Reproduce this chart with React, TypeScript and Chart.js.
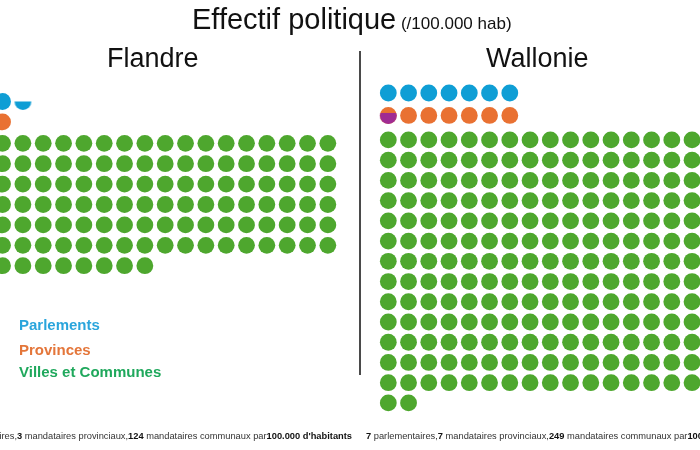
import React, { useEffect, useRef } from "react";
import { Chart, registerables } from "chart.js";

Chart.register(...registerables);

// ---------------- DATA ----------------
const regions = ["Flandre", "Wallonie"];
const parlementaires = [3.5, 7];
const provinciaux = [3, 7];
const communaux = [124, 249];
// share of the first provincial dot drawn in violet (Wallonie)
const violetShare = [0, 0.65];
const legendLabels = ["Parlements", "Provinces", "Villes et Communes"];
const titleMain = "Effectif politique";
const titleUnit = "(/100.000 hab)";

// ---------------- STYLE / LAYOUT ----------------
const W = 700;
const H = 450;
const COLS = 19;
const DOT_R = 8.4;
const COLORS = {
  parl: "#0F9ED5",
  prov: "#E97132",
  comm: "#4EA72E",
  violet: "#A02B93",
};
const LEGEND_COLORS = ["#2aa5dc", "#e4763a", "#1fa85c"];
// pixel placement of each region's dot grid (col 0 / parl row origin, steps)
const GRID = [
  { x0: -38.1, y0: 101.5, dx: 20.33, dy: 20.4, provRow: 1.0, commRow: 2.05 },
  { x0: 388.3, y0: 93.0, dx: 20.25, dy: 20.23, provRow: 1.11, commRow: 2.32 },
];
const FONT = '"Liberation Sans", Arial, sans-serif';

function partialDot(r: number, frac: number, color: string): HTMLCanvasElement {
  const size = Math.ceil(r * 2) + 2;
  const c = document.createElement("canvas");
  c.width = size;
  c.height = size;
  const ctx = c.getContext("2d")!;
  const cx = size / 2;
  const cy = size / 2;
  ctx.save();
  ctx.beginPath();
  ctx.arc(cx, cy, r, 0, Math.PI * 2);
  ctx.clip();
  ctx.fillStyle = color;
  ctx.fillRect(0, cy + r - 2 * r * frac, size, size);
  ctx.restore();
  return c;
}

function fmt(n: number) {
  return String(n).replace(".", ",");
}

function regionDatasets(i: number) {
  const g = GRID[i];
  const xAxisID = "x" + i;
  const yAxisID = "y" + i;
  const base = {
    xAxisID,
    yAxisID,
    pointRadius: DOT_R,
    pointHoverRadius: DOT_R,
    pointBorderWidth: 0,
    borderWidth: 0,
    clip: false as const,
    showLine: false,
  };
  const ds: any[] = [];
  const row = (count: number, y: number, color: string, label: string) => {
    const n = Math.floor(count);
    ds.push({
      ...base,
      label,
      order: 2,
      data: Array.from({ length: n }, (_, k) => ({ x: k, y })),
      backgroundColor: color,
      pointStyle: "circle",
    });
    const rest = count - n;
    if (rest > 0) {
      ds.push({
        ...base,
        label: label + " (part)",
        order: 2,
        data: [{ x: n, y }],
        backgroundColor: color,
        pointStyle: partialDot(DOT_R, rest, color),
      });
    }
  };
  row(parlementaires[i], 0, COLORS.parl, legendLabels[0]);
  row(provinciaux[i], g.provRow, COLORS.prov, legendLabels[1]);
  ds.push({
    ...base,
    label: legendLabels[2],
    order: 2,
    data: Array.from({ length: communaux[i] }, (_, k) => ({
      x: k % COLS,
      y: g.commRow + Math.floor(k / COLS),
    })),
    backgroundColor: COLORS.comm,
    pointStyle: "circle",
  });
  if (violetShare[i] > 0) {
    ds.push({
      ...base,
      label: "violet",
      order: 0,
      data: [{ x: 0, y: g.provRow }],
      backgroundColor: COLORS.violet,
      pointStyle: partialDot(DOT_R, violetShare[i], COLORS.violet),
    });
  }
  return ds;
}

function scalesFor(i: number) {
  const g = GRID[i];
  const xmin = -g.x0 / g.dx;
  const ymin = -g.y0 / g.dy;
  return {
    ["x" + i]: {
      type: "linear",
      axis: "x",
      display: false,
      bounds: "data",
      min: xmin,
      max: xmin + W / g.dx,
    },
    ["y" + i]: {
      type: "linear",
      axis: "y",
      display: false,
      bounds: "data",
      reverse: true,
      min: ymin,
      max: ymin + H / g.dy,
    },
  };
}

const abs = (o: React.CSSProperties): React.CSSProperties => ({
  position: "absolute",
  whiteSpace: "nowrap",
  ...o,
});

function Caption({ i, style }: { i: number; style: React.CSSProperties }) {
  return (
    <div style={abs({ fontSize: 9.3, lineHeight: "9.3px", color: "#333", ...style })}>
      <b style={{ color: "#111" }}>{fmt(parlementaires[i])}</b> parlementaires,
      <b style={{ color: "#111" }}>{fmt(provinciaux[i])}</b> mandataires provinciaux,
      <b style={{ color: "#111" }}>{fmt(communaux[i])}</b> mandataires communaux par
      <b style={{ color: "#111" }}>100.000 d'habitants</b>
    </div>
  );
}

export default function App() {
  const ref = useRef<HTMLCanvasElement>(null);

  useEffect(() => {
    const canvas = ref.current!;
    const chart = new Chart(canvas, {
      type: "scatter",
      data: { datasets: [...regionDatasets(0), ...regionDatasets(1)] },
      options: {
        animation: false,
        responsive: false,
        events: [],
        layout: { padding: 0, autoPadding: false },
        plugins: {
          legend: { display: false },
          tooltip: { enabled: false },
          title: { display: false },
        },
        scales: { ...scalesFor(0), ...scalesFor(1) } as any,
      },
    });
    return () => chart.destroy();
  }, []);

  return (
    <div
      style={{
        position: "fixed",
        left: 0,
        top: 0,
        width: W,
        height: H,
        overflow: "hidden",
        background: "#fff",
        fontFamily: FONT,
      }}
    >
      <canvas ref={ref} width={W} height={H} style={{ position: "absolute", left: 0, top: 0, width: W, height: H }} />

      <div style={abs({ left: 192, top: 30 - 0.8465 * 29, fontSize: 29, lineHeight: "29px", color: "#111" })}>
        {titleMain}
        <span style={{ fontSize: 17 }}> {titleUnit}</span>
      </div>

      <div style={abs({ left: 52.8, width: 200, textAlign: "center", top: 68 - 0.8465 * 27, fontSize: 27, lineHeight: "27px", color: "#111" })}>
        {regions[0]}
      </div>
      <div style={abs({ left: 437.2, width: 200, textAlign: "center", top: 68 - 0.8465 * 27, fontSize: 27, lineHeight: "27px", color: "#111" })}>
        {regions[1]}
      </div>

      <div style={abs({ left: 359.3, top: 51, width: 1.6, height: 324, background: "#4a4a4a" })} />

      {legendLabels.map((t, k) => (
        <div
          key={t}
          style={abs({
            left: 19,
            top: [329.3, 354.3, 376.7][k] - 0.8465 * 15,
            fontSize: 15,
            lineHeight: "15px",
            fontWeight: "bold",
            color: LEGEND_COLORS[k],
          })}
        >
          {t}
        </div>
      ))}

      <Caption i={0} style={{ right: W - 352, top: 439.5 - 0.8465 * 9.3, textAlign: "right" }} />
      <Caption i={1} style={{ left: 366, top: 439.5 - 0.8465 * 9.3 }} />
    </div>
  );
}
